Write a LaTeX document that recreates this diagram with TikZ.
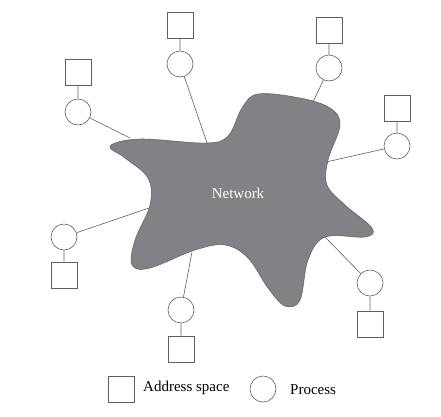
\documentclass[tikz,border=0pt]{standalone}
\usepackage{fontspec}
\setmainfont{Liberation Serif}
\definecolor{netgray}{RGB}{130,130,134}
\definecolor{linegray}{RGB}{95,95,95}
\begin{document}
\begin{tikzpicture}[x=1pt,y=-1pt,
        addr/.style={draw=linegray,line width=0.6pt,minimum size=26pt,inner sep=0pt},
        proc/.style={draw=linegray,line width=0.6pt,circle,minimum size=26pt,inner sep=0pt},
        link/.style={draw=linegray,line width=0.6pt},
        lbl/.style={font=\fontsize{15}{18}\selectfont,anchor=west,inner sep=0pt}]
  \useasboundingbox (0,0) rectangle (441,416);
  % the network
  \draw[draw=linegray,line width=0.5pt,fill=netgray] plot[smooth cycle,tension=0.6] coordinates {
    (110,146) (140,139) (205,143) (228,136) (242,108) (258,94) (300,98)
    (330,108) (340,125) (328,160) (327,185) (345,205) (372,228) (365,237)
    (325,237) (308,260) (300,300) (285,306) (268,288) (248,258) (225,245)
    (195,250) (150,268) (132,265) (135,240) (150,205) (148,178) (125,158)};
  \node[text=white,font=\fontsize{15}{18}\selectfont] (net) at (238,193) {Network};
  % where the links meet the network
  \coordinate (tA) at (130,138);
  \coordinate (tB) at (207,143);
  \coordinate (tC) at (313,102);
  \coordinate (tD) at (326,162);
  \coordinate (tE) at (325,237);
  \coordinate (tF) at (192,252);
  \coordinate (tG) at (149,208);
  % processes and their address spaces
  \node[addr] (addrA) at (78,72) {};
  \node[proc] (procA) at (78,112) {};
  \node[addr] (addrB) at (180,25) {};
  \node[proc] (procB) at (180,64) {};
  \node[addr] (addrC) at (329,30) {};
  \node[proc] (procC) at (329,68) {};
  \node[addr] (addrD) at (397,108) {};
  \node[proc] (procD) at (397,146) {};
  \node[proc] (procE) at (370,283) {};
  \node[addr] (addrE) at (370,324) {};
  \node[proc] (procF) at (181,310) {};
  \node[addr] (addrF) at (181,349) {};
  \node[proc] (procG) at (64,237) {};
  \node[addr] (addrG) at (64,275) {};
  \foreach \n in {A,B,C,D,E,F,G}
    \draw[link] (addr\n) -- (proc\n) (proc\n) -- (t\n);
  % legend
  \node[addr] (keyaddr) at (121,389) {};
  \node[lbl] (keyaddrtext) at (143,388) {Address space};
  \node[proc] (keyproc) at (263,389) {};
  \node[lbl] (keyproctext) at (290,390) {Process};
\end{tikzpicture}
\end{document}
